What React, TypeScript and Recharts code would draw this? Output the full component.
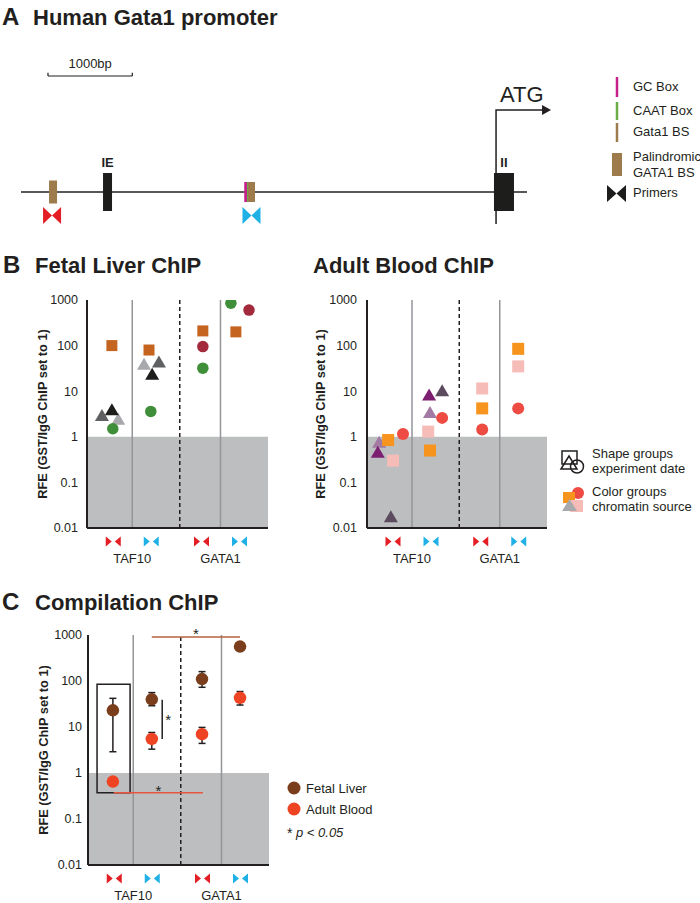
import React from "react";
import {
    ScatterChart,
    Scatter,
    XAxis,
    YAxis,
    ReferenceArea,
    ReferenceLine,
    ErrorBar,
    Label,
} from "recharts";

const FONT = "'Liberation Sans', Arial, Helvetica, sans-serif";
const INK = "#231f20";
const RED = "#e31e24";
const BLUE = "#1fb1e6";
const BROWN = "#9d7b4c";
const SHADE = "#bcbec0";

// ---------- panel A: promoter map, positions in bp from the left end of the drawn region
const regionBp = [0, 6000];
const scaleBarBp = [320, 1320];
const gata1BsBp = [380];
const gcBoxBp = [2665];
const caatBoxBp = [2692];
const palindromicBp = [2733];
const exonIEBp = [1026];
const exonIIBp = [5727];
const tssBp = [5633];
const redPrimerBp = [368];
const bluePrimerBp = [2733];

// ---------- RFE panels: col = position across the 4 primer columns (0-4), rfe = GST/IgG
const groupTicks = [1, 2.95];
const groupLabels = ["TAF10", "GATA1"];
const dividers = [1, 2.95];
const dashedDivider = 2.05;
const yTicks = [0.01, 0.1, 1, 10, 100, 1000];

// B, fetal liver
const flSquares = [
    { col: 0.55, rfe: 100 },
    { col: 1.37, rfe: 80 },
    { col: 2.56, rfe: 210 },
    { col: 3.29, rfe: 200 },
];
const flGreen = [
    { col: 0.57, rfe: 1.5 },
    { col: 1.41, rfe: 3.6 },
    { col: 2.56, rfe: 32 },
    { col: 3.18, rfe: 850 },
];
const flDarkRed = [
    { col: 2.56, rfe: 95 },
    { col: 3.58, rfe: 600 },
];
const flBlackTri = [
    { col: 0.55, rfe: 4 },
    { col: 1.44, rfe: 24 },
];
const flDarkGreyTri = [
    { col: 0.33, rfe: 3 },
    { col: 1.59, rfe: 45 },
];
const flLightGreyTri = [
    { col: 0.69, rfe: 2.5 },
    { col: 1.26, rfe: 40 },
];

// B, adult blood
const abOrange = [
    { col: 0.47, rfe: 0.85 },
    { col: 1.4, rfe: 0.5 },
    { col: 2.56, rfe: 4.2 },
    { col: 3.36, rfe: 85 },
];
const abPink = [
    { col: 0.58, rfe: 0.3 },
    { col: 1.36, rfe: 1.3 },
    { col: 2.56, rfe: 11.5 },
    { col: 3.36, rfe: 35 },
];
const abRed = [
    { col: 0.8, rfe: 1.15 },
    { col: 1.67, rfe: 2.6 },
    { col: 2.56, rfe: 1.45 },
    { col: 3.36, rfe: 4.2 },
];
const abDarkPurpleTri = [
    { col: 0.24, rfe: 0.47 },
    { col: 1.38, rfe: 8.5 },
];
const abLightPurpleTri = [
    { col: 0.27, rfe: 0.78 },
    { col: 1.4, rfe: 3.5 },
];
const abGreyPurpleTri = [
    { col: 0.53, rfe: 0.018 },
    { col: 1.67, rfe: 10.5 },
];

// C, compilation (mean with low/high)
const compCols = [0.55, 1.41, 2.52, 3.36];
const fetalMean = [23, 40, 110, 560];
const fetalLow = [2.9, 29, 73, 560];
const fetalHigh = [42, 56, 160, 560];
const adultMean = [0.65, 5.5, 7, 43];
const adultLow = [0.65, 3.3, 4.4, 30];
const adultHigh = [0.65, 7.6, 9.8, 59];

const toComp = (mean: number[], low: number[], high: number[]) =>
    mean.map((m, i) => ({ col: compCols[i], rfe: m, err: [m - low[i], high[i] - m] }));

const fetalComp = toComp(fetalMean, fetalLow, fetalHigh);
const adultComp = toComp(adultMean, adultLow, adultHigh);

// markers
const square = (fill: string, s = 11) => (p: any) =>
    <rect x={p.cx - s / 2} y={p.cy - s / 2} width={s} height={s} fill={fill} />;
const dot = (fill: string, d = 11.5) => (p: any) =>
    <circle cx={p.cx} cy={p.cy} r={d / 2} fill={fill} />;
const tri = (fill: string, w = 14, h = 12) => (p: any) =>
    <polygon
        points={`${p.cx - w / 2},${p.cy + h / 2} ${p.cx},${p.cy - h / 2} ${p.cx + w / 2},${p.cy + h / 2}`}
        fill={fill}
    />;

function SmallPrimer({ x, y, color }: any) {
    return (
        <g fill={color}>
            <polygon points={`${x - 7.5},${y - 5} ${x - 1.5},${y} ${x - 7.5},${y + 5}`} />
            <polygon points={`${x + 7.5},${y - 5} ${x + 1.5},${y} ${x + 7.5},${y + 5}`} />
        </g>
    );
}

function PrimerTick({ x, y, index }: any) {
    return (
        <g>
            <SmallPrimer x={x - 19} y={y + 13.5} color={RED} />
            <SmallPrimer x={x + 19} y={y + 13.5} color={BLUE} />
            <text x={x} y={y + 34.5} textAnchor="middle" fontSize={13} fill={INK} fontFamily={FONT}>
                {groupLabels[index]}
            </text>
        </g>
    );
}

const yTitle = (cx: number) => (props: any) => {
    const vb = props.viewBox || {};
    const y = (vb.y ?? 0) + (vb.height ?? 0) / 2;
    return (
        <text
            x={cx}
            y={y}
            transform={`rotate(-90 ${cx} ${y})`}
            textAnchor="middle"
            dominantBaseline="central"
            fontWeight="bold"
            fontSize={12.8}
            fill={INK}
            fontFamily={FONT}
        >
            RFE (GST/IgG ChIP set to 1)
        </text>
    );
};

function RfeChart({ width, height, yAxisWidth, right, xAxisHeight, tickMargin, titleX, children }: any) {
    return (
        <ScatterChart width={width} height={height} margin={{ top: 40, right, bottom: 0, left: 0 }}>
            <XAxis
                type="number"
                dataKey="col"
                domain={[0, 4]}
                ticks={groupTicks}
                interval={0}
                height={xAxisHeight}
                tickLine={false}
                tickSize={0}
                tickMargin={0}
                axisLine={{ stroke: INK, strokeWidth: 2 }}
                tick={(p: any) => <PrimerTick {...p} />}
            />
            <YAxis
                type="number"
                dataKey="rfe"
                scale="log"
                domain={[0.01, 1000]}
                allowDataOverflow
                ticks={yTicks}
                interval={0}
                width={yAxisWidth}
                tickLine={false}
                tickSize={0}
                tickMargin={tickMargin}
                tickFormatter={(v: number) => String(v)}
                tick={{ fontSize: 12.5, fill: INK, fontFamily: FONT }}
                axisLine={{ stroke: INK, strokeWidth: 2 }}
            >
                <Label content={yTitle(titleX)} />
            </YAxis>
            <ReferenceArea y1={0.01} y2={1} fill={SHADE} fillOpacity={1} stroke="none" ifOverflow="visible" />
            {dividers.map((d) => (
                <ReferenceLine key={d} x={d} stroke="#939598" strokeWidth={1.5} />
            ))}
            <ReferenceLine x={dashedDivider} stroke={INK} strokeWidth={1.5} strokeDasharray="4 3" />
            {children}
        </ScatterChart>
    );
}

const track = (arr: number[]) => arr.map((bp) => ({ bp, track: 0 }));

const siteBar = (w: number, h: number, fill: string) => (p: any) =>
    <rect x={p.cx - w / 2} y={p.cy - h / 2} width={w} height={h} fill={fill} />;

const exon = (w: number, label: string) => (p: any) => (
    <g>
        <rect x={p.cx - w / 2} y={p.cy - 19} width={w} height={38} fill="#1d1d1b" />
        <text x={p.cx} y={p.cy - 25} textAnchor="middle" fontWeight="bold" fontSize={13} fill={INK} fontFamily={FONT}>
            {label}
        </text>
    </g>
);

const tssArrow = (p: any) => (
    <g>
        <polyline
            points={`${p.cx},${p.cy + 32} ${p.cx},${p.cy - 82} ${p.cx + 47},${p.cy - 82}`}
            fill="none"
            stroke={INK}
            strokeWidth={1.5}
        />
        <polygon points={`${p.cx + 46},${p.cy - 87} ${p.cx + 55},${p.cy - 82} ${p.cx + 46},${p.cy - 77}`} fill={INK} />
        <text x={p.cx + 4} y={p.cy - 90} fontSize={22} fill={INK} fontFamily={FONT}>
            ATG
        </text>
    </g>
);

const bowtie = (color: string) => (p: any) => {
    const y = p.cy + 23.5;
    return (
        <g fill={color}>
            <polygon points={`${p.cx - 9},${y - 8.5} ${p.cx},${y} ${p.cx - 9},${y + 8.5}`} />
            <polygon points={`${p.cx + 9},${y - 8.5} ${p.cx},${y} ${p.cx + 9},${y + 8.5}`} />
        </g>
    );
};

function PromoterMap() {
    return (
        <ScatterChart width={700} height={240} margin={{ top: 0, right: 173, bottom: 0, left: 21 }}>
            <XAxis type="number" dataKey="bp" domain={regionBp} hide />
            <YAxis type="number" dataKey="track" domain={[-1.2, 4.8]} hide />
            <ReferenceLine
                segment={[{ x: regionBp[0], y: 0 }, { x: regionBp[1], y: 0 }]}
                stroke={INK}
                strokeWidth={1.5}
            />
            <ReferenceLine
                segment={[{ x: scaleBarBp[0], y: 2.9 }, { x: scaleBarBp[1], y: 2.9 }]}
                stroke={INK}
                strokeWidth={1.2}
                label={{ value: "1000bp", position: "top", offset: 8, fontSize: 13, fill: INK, fontFamily: FONT }}
            />
            <ReferenceLine segment={[{ x: scaleBarBp[0], y: 2.9 }, { x: scaleBarBp[0], y: 2.98 }]} stroke={INK} strokeWidth={1.2} />
            <ReferenceLine segment={[{ x: scaleBarBp[1], y: 2.9 }, { x: scaleBarBp[1], y: 2.98 }]} stroke={INK} strokeWidth={1.2} />
            <Scatter data={track(tssBp)} fill={INK} shape={tssArrow} isAnimationActive={false} />
            <Scatter data={track(gata1BsBp)} fill={BROWN} shape={siteBar(8, 23, BROWN)} isAnimationActive={false} />
            <Scatter data={track(gcBoxBp)} fill="#c8208a" shape={siteBar(3, 20, "#c8208a")} isAnimationActive={false} />
            <Scatter data={track(caatBoxBp)} fill="#6aae45" shape={siteBar(2, 20, "#6aae45")} isAnimationActive={false} />
            <Scatter data={track(palindromicBp)} fill={BROWN} shape={siteBar(7, 20, BROWN)} isAnimationActive={false} />
            <Scatter data={track(exonIEBp)} fill="#1d1d1b" shape={exon(9, "IE")} isAnimationActive={false} />
            <Scatter data={track(exonIIBp)} fill="#1d1d1b" shape={exon(20, "II")} isAnimationActive={false} />
            <Scatter data={track(redPrimerBp)} fill={RED} shape={bowtie(RED)} isAnimationActive={false} />
            <Scatter data={track(bluePrimerBp)} fill={BLUE} shape={bowtie(BLUE)} isAnimationActive={false} />
        </ScatterChart>
    );
}

const starLabel = (position: string, offset: number) => ({
    value: "*",
    position,
    offset,
    fontSize: 15,
    fill: INK,
    fontFamily: FONT,
});

function Overlay() {
    const t = { fontFamily: FONT, fill: INK };
    return (
        <svg width={700} height={903} style={{ position: "absolute", left: 0, top: 0 }}>
            {/* titles */}
            <text x={2} y={25} fontSize={24} fontWeight="bold" {...t}>A</text>
            <text x={33} y={25} fontSize={22} fontWeight="bold" {...t}>Human Gata1 promoter</text>
            <text x={3} y={273} fontSize={24} fontWeight="bold" {...t}>B</text>
            <text x={35} y={273} fontSize={22} fontWeight="bold" {...t}>Fetal Liver ChIP</text>
            <text x={313} y={273} fontSize={22} fontWeight="bold" {...t}>Adult Blood ChIP</text>
            <text x={2} y={610} fontSize={24} fontWeight="bold" {...t}>C</text>
            <text x={35} y={610} fontSize={22} fontWeight="bold" {...t}>Compilation ChIP</text>

            {/* panel A legend */}
            <line x1={617} y1={77} x2={617} y2={97} stroke="#c8208a" strokeWidth={2.5} />
            <line x1={617} y1={102} x2={617} y2={120} stroke="#6aae45" strokeWidth={2.5} />
            <line x1={617} y1={123} x2={617} y2={142} stroke={BROWN} strokeWidth={2.5} />
            <rect x={612} y={153} width={10} height={23} fill={BROWN} />
            <polygon points="607,185 616.5,193.5 607,202" fill="#1d1d1b" />
            <polygon points="626,185 616.5,193.5 626,202" fill="#1d1d1b" />
            <text x={633} y={91} fontSize={13} {...t}>GC Box</text>
            <text x={633} y={115} fontSize={13} {...t}>CAAT Box</text>
            <text x={633} y={136} fontSize={13} {...t}>Gata1 BS</text>
            <text x={633} y={161} fontSize={13} {...t}>Palindromic</text>
            <text x={633} y={177} fontSize={13} {...t}>GATA1 BS</text>
            <text x={633} y={197} fontSize={13} {...t}>Primers</text>

            {/* panel B legend */}
            <g fill="none" stroke={INK} strokeWidth={1.5}>
                <rect x={562} y={451} width={15} height={13} />
                <polygon points="561,469 569,456 577,469" />
                <circle cx={577} cy={466.5} r={6.5} />
            </g>
            <circle cx={578} cy={493} r={6} fill="#ee4b43" />
            <rect x={563} y={492} width={12} height={11} fill="#f7941d" />
            <rect x={570} y={500} width={13} height={12} fill="#f6bcb8" />
            <polygon points="562,511 569.5,499 577,511" fill="#a7a9ac" />
            <text x={592} y={458} fontSize={13} {...t}>Shape groups</text>
            <text x={592} y={473} fontSize={13} {...t}>experiment date</text>
            <text x={592} y={496} fontSize={13} {...t}>Color groups</text>
            <text x={592} y={511} fontSize={13} {...t}>chromatin source</text>

            {/* panel C legend */}
            <circle cx={294} cy={788} r={6.5} fill="#7a3e1c" />
            <circle cx={294} cy={809} r={6.5} fill="#ef4423" />
            <text x={306} y={793} fontSize={13} {...t}>Fetal Liver</text>
            <text x={306} y={814} fontSize={13} {...t}>Adult Blood</text>
            <text x={287} y={838} fontSize={14} {...t}>*</text>
            <text x={296} y={837} fontSize={13} fontStyle="italic" {...t}>p &lt; 0.05</text>
        </svg>
    );
}

export default function App() {
    return (
        <div style={{ position: "relative", width: 700, height: 903, background: "#fff", fontFamily: FONT, overflow: "hidden" }}>
            <style>{"body{margin:0}"}</style>
            <Overlay />

            <div style={{ position: "absolute", left: 0, top: 0 }}>
                <PromoterMap />
            </div>

            <div style={{ position: "absolute", left: 0, top: 260 }}>
                <RfeChart width={290} height={310} yAxisWidth={87} right={22} xAxisHeight={42} tickMargin={9} titleX={42}>
                    <Scatter data={flDarkGreyTri} fill="#5f6062" shape={tri("#5f6062")} isAnimationActive={false} />
                    <Scatter data={flLightGreyTri} fill="#a7a9ac" shape={tri("#a7a9ac")} isAnimationActive={false} />
                    <Scatter data={flBlackTri} fill="#1d1d1b" shape={tri("#1d1d1b")} isAnimationActive={false} />
                    <Scatter data={flSquares} fill="#c5641f" shape={square("#c5641f")} isAnimationActive={false} />
                    <Scatter data={flGreen} fill="#3f8f3a" shape={dot("#3f8f3a")} isAnimationActive={false} />
                    <Scatter data={flDarkRed} fill="#a32a3d" shape={dot("#a32a3d")} isAnimationActive={false} />
                </RfeChart>
            </div>

            <div style={{ position: "absolute", left: 300, top: 260 }}>
                <RfeChart width={270} height={310} yAxisWidth={67} right={23} xAxisHeight={42} tickMargin={10} titleX={20}>
                    <Scatter data={abGreyPurpleTri} fill="#5c4a5e" shape={tri("#5c4a5e")} isAnimationActive={false} />
                    <Scatter data={abLightPurpleTri} fill="#a27aa3" shape={tri("#a27aa3")} isAnimationActive={false} />
                    <Scatter data={abDarkPurpleTri} fill="#7c1f70" shape={tri("#7c1f70")} isAnimationActive={false} />
                    <Scatter data={abPink} fill="#f6bcb8" shape={square("#f6bcb8", 12)} isAnimationActive={false} />
                    <Scatter data={abOrange} fill="#f7941d" shape={square("#f7941d", 12)} isAnimationActive={false} />
                    <Scatter data={abRed} fill="#ee4b43" shape={dot("#ee4b43", 12)} isAnimationActive={false} />
                </RfeChart>
            </div>

            <div style={{ position: "absolute", left: 0, top: 595 }}>
                <RfeChart width={290} height={308} yAxisWidth={88} right={21} xAxisHeight={38} tickMargin={6} titleX={43}>
                    <ReferenceArea
                        x1={0.2}
                        x2={0.93}
                        y1={0.37}
                        y2={85}
                        fill="none"
                        fillOpacity={0}
                        stroke={INK}
                        strokeWidth={1.5}
                    />
                    <ReferenceLine
                        segment={[{ x: 1.41, y: 900 }, { x: 3.36, y: 900 }]}
                        stroke="#b8603e"
                        strokeWidth={1.5}
                        label={starLabel("top", -2)}
                    />
                    <ReferenceLine
                        segment={[{ x: 1.64, y: 5.5 }, { x: 1.64, y: 39 }]}
                        stroke={INK}
                        strokeWidth={1.5}
                        label={starLabel("right", 3)}
                    />
                    <ReferenceLine
                        segment={[{ x: 0.57, y: 0.37 }, { x: 2.54, y: 0.37 }]}
                        stroke="#e8553e"
                        strokeWidth={1.5}
                        label={starLabel("top", -3)}
                    />
                    <Scatter data={fetalComp} fill="#7a3e1c" shape={dot("#7a3e1c", 12.5)} isAnimationActive={false}>
                        <ErrorBar dataKey="err" direction="y" width={3.5} stroke={INK} strokeWidth={1.5} />
                    </Scatter>
                    <Scatter data={adultComp} fill="#ef4423" shape={dot("#ef4423", 12.5)} isAnimationActive={false}>
                        <ErrorBar dataKey="err" direction="y" width={3.5} stroke={INK} strokeWidth={1.5} />
                    </Scatter>
                </RfeChart>
            </div>
        </div>
    );
}
